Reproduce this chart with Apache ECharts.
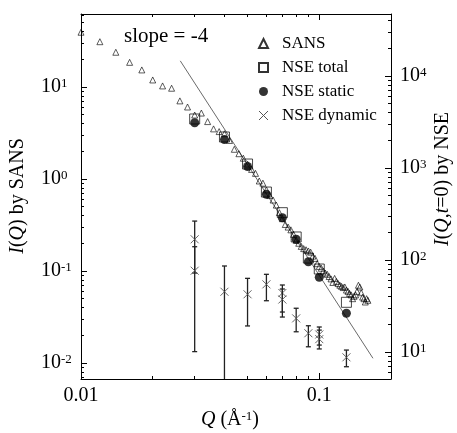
<!DOCTYPE html>
<html><head><meta charset="utf-8">
<script src="https://cdn.jsdelivr.net/npm/echarts@6/dist/echarts.min.js"></script>
<style>html,body{margin:0;padding:0;background:#fff}#c{width:457px;height:433px}</style>
</head><body><div id="c"></div>
<script>
// SANS I(Q), left axis
const sansQ = [0.010,0.012,0.014,0.016,0.018,0.020,0.022,0.024,0.026,0.028,0.030,0.032,0.034,0.036,0.038,0.040,
  0.042,0.044,0.046,0.048,0.050,0.052,0.054,0.056,0.058,0.060,0.062,0.064,0.066,0.068,0.070,0.072,0.074,0.076,0.078,
  0.080,0.082,0.084,0.086,0.088,0.090,0.092,0.094,0.096,0.098,0.100,0.102,0.104,0.106,0.108,0.110,0.112,0.114,0.116,
  0.118,0.120,0.122,0.124,0.126,0.128,0.130,0.132,0.134,0.136,0.138,0.140,0.142,0.144,0.146,0.148,0.150,0.152,0.154,
  0.156,0.158,0.160];
const sansI = [39.3,31.0,23.8,18.5,15.3,11.9,10.25,9.68,7.05,6.05,4.95,5.2,4.2,3.5,3.27,3.1,
  2.62,2.1,1.88,1.68,1.45,1.27,1.15,0.95,0.9,0.76,0.66,0.59,0.52,0.43,0.37,0.32,0.30,0.28,0.25,
  0.215,0.2,0.185,0.175,0.17,0.165,0.16,0.145,0.137,0.12,0.112,0.107,0.1,0.095,0.092,0.087,0.082,0.075,0.083,
  0.077,0.073,0.07,0.068,0.066,0.067,0.062,0.06,0.057,0.055,0.05,0.053,0.055,0.06,0.07,0.067,0.058,0.052,0.05,
  0.046,0.05,0.048];
// NSE, right axis
const nseQ = [0.03,0.04,0.05,0.06,0.07,0.08,0.09,0.10,0.13];
const nseTotal = [3410,2173,1105,548,327,178,105,79.8,34.7];
const nseStatic = [3107,2036,1038,518,288,168,95.8,65.0,26.4];
const dynQ = [0.03,0.03,0.04,0.05,0.06,0.07,0.07,0.08,0.09,0.10,0.10,0.13];
const dynVal = [168,76.5,45.2,42.4,54.4,43.8,37.2,23.2,16.0,15.5,13.8,8.76];
const dynLow = [72.2,10.1,4,19.2,36.1,27.2,24.0,16.6,11.4,11.9,10.8,6.92];
const dynHigh = [265,139.5,86.1,63.2,69.9,53.5,48.4,29.9,19.3,18.7,17.3,10.5];
// slope = -4 guide line (endpoints)
const slopeQ = [0.0261,0.168];
const slopeI = [19.2,0.01125];
// ticks
const xMajor = [0.01,0.1];
const xMinor = [0.02,0.03,0.04,0.05,0.06,0.07,0.08,0.09];
const yLMajor = [0.01,0.1,1,10];
const yLMinor = [0.007,0.008,0.009,0.02,0.03,0.04,0.05,0.06,0.07,0.08,0.09,0.2,0.3,0.4,0.5,0.6,0.7,0.8,0.9,2,3,4,5,6,7,8,9,20,30,40,50,60];
const yRMajor = [10,100,1000,10000];
const yRMinor = [6,7,8,9,20,30,40,50,60,70,80,90,200,300,400,500,600,700,800,900,2000,3000,4000,5000,6000,7000,8000,9000,20000,30000,40000];

const FF = 'Liberation Serif';
const xMin = 0.01, xMax = 0.2, yLMin = 0.0067, yLMax = 62, yRMin = 5.09, yRMax = 47200;
const sup = v => '{b|10}{s|' + Math.round(Math.log10(v)) + '}';
const supRich = {b:{fontFamily:FF,fontSize:20,color:'#000'}, s:{fontFamily:FF,fontSize:13,color:'#000',verticalAlign:'top'}};

function xAx(pos, major){
  return {type:'log', logBase:10, min:xMin, max:xMax, position:pos, gridIndex:0,
    axisLine:{show:major, lineStyle:{color:'#000', width:1}},
    splitLine:{show:false}, minorTick:{show:false},
    axisTick:{show:true, inside:true, length: major?6:3, lineStyle:{color:'#000', width:1}, customValues: major?xMajor:xMinor},
    axisLabel:{show: major && pos==='bottom', customValues:xMajor, margin:7, fontFamily:FF, fontSize:20, color:'#000',
      formatter: v => (v < 0.05 ? '0.01' : '0.1')}};
}
function yAx(pos, major, mn, mx, maj, mnr){
  return {type:'log', logBase:10, min:mn, max:mx, position:pos, gridIndex:0,
    axisLine:{show:major, lineStyle:{color:'#000', width:1}},
    splitLine:{show:false}, minorTick:{show:false},
    axisTick:{show:true, inside:true, length: major?6:3, lineStyle:{color:'#000', width:1}, customValues: major?maj:mnr},
    axisLabel:{show: major, customValues: maj, margin: pos==='left'?40:9, align:'left',
      formatter: sup, rich: supRich}};
}

const chart = echarts.init(document.getElementById('c'), null, {renderer:'canvas'});
chart.setOption({
  animation:false,
  backgroundColor:'#fff',
  textStyle:{fontFamily:FF},
  grid:{left:81, right:66, top:14, bottom:54},
  xAxis:[xAx('bottom',true), xAx('bottom',false), xAx('top',true), xAx('top',false)],
  yAxis:[yAx('left',true,yLMin,yLMax,yLMajor,yLMinor), yAx('left',false,yLMin,yLMax,yLMajor,yLMinor),
         yAx('right',true,yRMin,yRMax,yRMajor,yRMinor), yAx('right',false,yRMin,yRMax,yRMajor,yRMinor)],
  legend:{orient:'vertical', left:253, top:30, itemWidth:9, itemHeight:9, itemGap:7,
    textStyle:{fontFamily:FF, fontSize:17, color:'#000'},
    formatter: n => '{t|' + n + '}',
    data:['SANS','NSE total','NSE static',
      {name:'NSE dynamic', icon:'path://M0,0L10,10M10,0L0,10', itemStyle:{color:'transparent', borderColor:'#555', borderWidth:1}}]},
  graphic:[
    {type:'text', x:124, y:36, style:{text:'slope = -4', font:'21px "Liberation Serif"', fill:'#000', verticalAlign:'middle', align:'left'}},
    {type:'text', x:18, y:196, rotation:Math.PI/2, style:{text:'{i|I}({i|Q}) by SANS', align:'center', verticalAlign:'middle',
      font:'20px "Liberation Serif"', fill:'#000',
      rich:{i:{fontFamily:FF, fontSize:20, fontStyle:'italic', color:'#000'}}}},
    {type:'text', x:443, y:179, rotation:Math.PI/2, style:{text:'{i|I}({i|Q},{i|t}=0) by NSE', align:'center', verticalAlign:'middle',
      font:'20px "Liberation Serif"', fill:'#000',
      rich:{i:{fontFamily:FF, fontSize:20, fontStyle:'italic', color:'#000'}}}},
    {type:'text', x:230, y:420, style:{text:'{i|Q} (Å{s|-1})', align:'center', verticalAlign:'middle',
      font:'20px "Liberation Serif"', fill:'#000',
      rich:{i:{fontFamily:FF, fontSize:20, fontStyle:'italic', color:'#000'}, s:{fontFamily:FF, fontSize:13, verticalAlign:'top', color:'#000'}}}}
  ],
  series:[
    {name:'slope', type:'line', xAxisIndex:0, yAxisIndex:0, symbol:'none', silent:true,
      lineStyle:{color:'#444', width:0.8}, data: slopeQ.map((q,i)=>[q, slopeI[i]]), z:1},
    {name:'SANS', type:'scatter', xAxisIndex:0, yAxisIndex:0, symbol:'triangle', symbolSize:6,
      itemStyle:{color:'transparent', borderColor:'#000', borderWidth:0.8}, data: sansQ.map((q,i)=>[q, sansI[i]]), z:3},
    {name:'NSE total', type:'scatter', xAxisIndex:0, yAxisIndex:2, symbol:'rect', symbolSize:10,
      itemStyle:{color:'transparent', borderColor:'#000', borderWidth:0.9}, data: nseQ.map((q,i)=>[q, nseTotal[i]]), z:2},
    {name:'NSE static', type:'scatter', xAxisIndex:0, yAxisIndex:2, symbol:'circle', symbolSize:9,
      itemStyle:{color:'#000'}, data: nseQ.map((q,i)=>[q, nseStatic[i]]), z:4},
    {name:'NSE dynamic', type:'custom', xAxisIndex:0, yAxisIndex:2, clip:true, z:4,
      itemStyle:{color:'#555'},
      encode:{x:0, y:[1,2,3]},
      data: dynQ.map((q,i)=>[q, dynVal[i], dynLow[i], dynHigh[i]]),
      renderItem:function(params, api){
        const p = api.coord([api.value(0), api.value(1)]);
        const lo = api.coord([api.value(0), api.value(2)]);
        const hi = api.coord([api.value(0), api.value(3)]);
        const cw = 2.5, m = 4;
        const bs = {stroke:'#222', lineWidth:1.3};
        const xs = {stroke:'#555', lineWidth:0.9};
        return {type:'group', children:[
          {type:'line', shape:{x1:p[0], y1:hi[1], x2:p[0], y2:lo[1]}, style:bs},
          {type:'line', shape:{x1:p[0]-cw, y1:hi[1], x2:p[0]+cw, y2:hi[1]}, style:bs},
          {type:'line', shape:{x1:p[0]-cw, y1:lo[1], x2:p[0]+cw, y2:lo[1]}, style:bs},
          {type:'line', shape:{x1:p[0]-m, y1:p[1]-m, x2:p[0]+m, y2:p[1]+m}, style:xs},
          {type:'line', shape:{x1:p[0]-m, y1:p[1]+m, x2:p[0]+m, y2:p[1]-m}, style:xs}
        ]};
      }}
  ]
});
chart.setOption({legend:{textStyle:{rich:{t:{fontFamily:FF, fontSize:17, color:'#000', padding:[0,0,0,9]}}}}});
</script></body></html>
